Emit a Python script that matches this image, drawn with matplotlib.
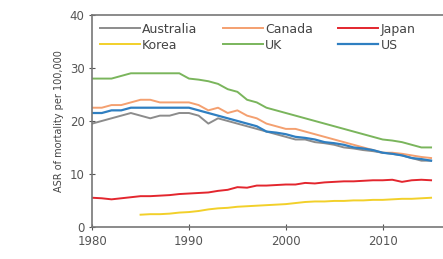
import numpy as np
import matplotlib
matplotlib.use("Agg")
import matplotlib.pyplot as plt

years = list(range(1980, 2016))
korea_years = list(range(1985, 2016))

australia = [19.5, 20.0, 20.5, 21.0, 21.5, 21.0, 20.5, 21.0, 21.0, 21.5, 21.5, 21.0, 19.5, 20.5, 20.0, 19.5,
             19.0, 18.5, 18.0, 17.5, 17.0, 16.5, 16.5, 16.0, 15.8, 15.5, 15.0, 14.8, 14.5, 14.3, 14.0, 13.8,
             13.5, 13.0, 12.5, 12.5]
canada = [22.5, 22.5, 23.0, 23.0, 23.5, 24.0, 24.0, 23.5, 23.5, 23.5, 23.5, 23.0, 22.0, 22.5, 21.5, 22.0,
          21.0, 20.5, 19.5, 19.0, 18.5, 18.5, 18.0, 17.5, 17.0, 16.5, 16.0, 15.5, 15.0, 14.5, 14.0, 14.0,
          13.8, 13.5, 13.2, 13.0]
japan = [5.5, 5.4, 5.2, 5.4, 5.6, 5.8, 5.8, 5.9, 6.0, 6.2, 6.3, 6.4, 6.5, 6.8, 7.0, 7.5,
         7.4, 7.8, 7.8, 7.9, 8.0, 8.0, 8.3, 8.2, 8.4, 8.5, 8.6, 8.6, 8.7, 8.8, 8.8, 8.9,
         8.5, 8.8, 8.9, 8.8]
korea = [2.3, 2.4, 2.4, 2.5, 2.7, 2.8, 3.0, 3.3, 3.5, 3.6, 3.8, 3.9, 4.0, 4.1, 4.2, 4.3,
         4.5, 4.7, 4.8, 4.8, 4.9, 4.9, 5.0, 5.0, 5.1, 5.1, 5.2, 5.3, 5.3, 5.4, 5.5]
uk = [28.0, 28.0, 28.0, 28.5, 29.0, 29.0, 29.0, 29.0, 29.0, 29.0, 28.0, 27.8, 27.5, 27.0, 26.0, 25.5,
      24.0, 23.5, 22.5, 22.0, 21.5, 21.0, 20.5, 20.0, 19.5, 19.0, 18.5, 18.0, 17.5, 17.0, 16.5, 16.3,
      16.0, 15.5, 15.0, 15.0]
us = [21.5, 21.5, 22.0, 22.0, 22.5, 22.5, 22.5, 22.5, 22.5, 22.5, 22.5, 22.0, 21.5, 21.0, 20.5, 20.0,
      19.5, 19.0, 18.0, 17.8, 17.5, 17.0, 16.8, 16.5, 16.0, 15.8, 15.5, 15.0, 14.8, 14.5, 14.0, 13.8,
      13.5, 13.0, 12.8, 12.5]

fig = plt.figure(figsize=(4.43, 2.59), dpi=100)
ax = fig.add_axes([0.208, 0.124, 0.80, 0.818])

ax.plot(years, australia, color="#8c8c8c", lw=1.4, label="Australia")
ax.plot(years, canada, color="#f4a070", lw=1.4, label="Canada")
ax.plot(years, japan, color="#e3262e", lw=1.4, label="Japan")
ax.plot(korea_years, korea, color="#f2d02a", lw=1.4, label="Korea")
ax.plot(years, uk, color="#7ab55c", lw=1.4, label="UK")
ax.plot(years, us, color="#2f7fc1", lw=1.6, label="US")

ax.set_xlim(1980, 2016.6)
ax.set_ylim(0, 40)
ax.set_xticks([1980, 1990, 2000, 2010])
ax.set_yticks([0, 10, 20, 30, 40])
ax.tick_params(direction="inout", length=4, labelsize=8.5, colors="#555555")
for s in ["top", "left", "bottom"]:
    ax.spines[s].set_color("#777777")
    ax.spines[s].set_linewidth(1.2)
ax.spines["right"].set_visible(False)
ax.set_ylabel("ASR of mortality per 100,000", fontsize=7, color="#444444")

# row-wise legend order: matplotlib fills columns first
h, l = ax.get_legend_handles_labels()
order = [0, 3, 1, 4, 2, 5]
ax.legend([h[i] for i in order], [l[i] for i in order], ncol=3, loc="upper left",
          frameon=False, fontsize=9, handlelength=3.2, handletextpad=0.2,
          columnspacing=2.0, borderaxespad=0.2, labelspacing=0.25,
          labelcolor="#444444", bbox_to_anchor=(0.0, 1.0))

fig.savefig("out.png", dpi=100)
